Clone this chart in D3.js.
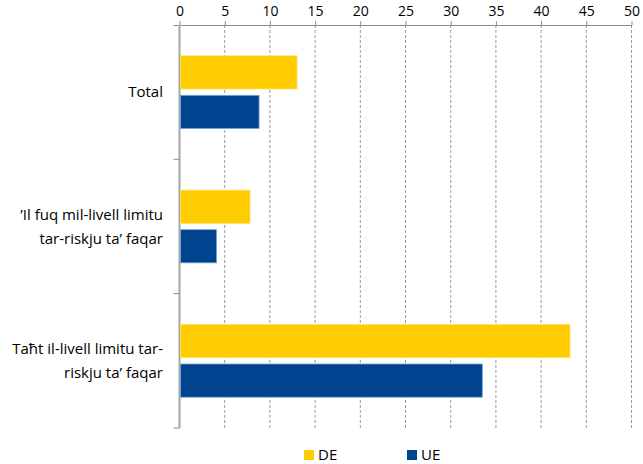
<!DOCTYPE html>
<html><head><meta charset="utf-8">
<script src="https://cdn.jsdelivr.net/npm/d3@7"></script>
<style>body{margin:0;background:#fff}svg{display:block}text{font-family:"Open Sans","Liberation Sans",sans-serif}</style>
</head><body><svg id="c" width="643" height="464"></svg>
<script>
const categories = [["Total"], ["’Il fuq mil-livell limitu", "tar-riskju ta’ faqar"], ["Taħt il-livell limitu tar-", "riskju ta’ faqar"]];
const seriesNames = ["DE", "UE"];
const deValues = [13.0, 7.8, 43.2];
const ueValues = [8.8, 4.1, 33.5];
const xTicks = [0, 5, 10, 15, 20, 25, 30, 35, 40, 45, 50];
const colors = ["#FFCC00", "#00438F"];

const svg = d3.select("#c");
const L = 179.5, R = 631.5, T = 25, B = 428;
const x = d3.scaleLinear().domain([0, 50]).range([L, R]);
const y = d3.scaleBand().domain(d3.range(categories.length)).range([T, B]).paddingInner(0).paddingOuter(0);
const inner = d3.scaleBand().domain([0, 1]).range([0, y.bandwidth()]).paddingInner(0.16).paddingOuter(0.78);

// gridlines
svg.append("g").selectAll("line").data(xTicks.filter(d => d > 0)).join("line")
  .attr("x1", d => x(d)).attr("x2", d => x(d)).attr("y1", T).attr("y2", B)
  .attr("stroke", "#9a9a9a").attr("stroke-width", 1).attr("stroke-dasharray", "3,2");

// top axis
const ax = svg.append("g").attr("transform", `translate(0,${T})`)
  .call(d3.axisTop(x).tickValues(xTicks).tickSize(4).tickPadding(5));
ax.select(".domain").attr("stroke", "#8c8c8c").attr("d", `M${L-6},0.5H${R+0.5}`);
ax.selectAll(".tick line").attr("stroke", "#8c8c8c");
ax.selectAll(".tick text").attr("font-size", 14).attr("fill", "#000").attr("font-family", "Open Sans, Liberation Sans, sans-serif");

// left axis line & ticks
svg.append("line").attr("x1", L).attr("x2", L).attr("y1", T).attr("y2", B).attr("stroke", "#a6a6a6").attr("stroke-width", 2);
svg.append("g").selectAll("line").data(d3.range(1, categories.length + 1)).join("line")
  .attr("x1", L - 6).attr("x2", L).attr("y1", i => T + i * y.bandwidth()).attr("y2", i => T + i * y.bandwidth())
  .attr("stroke", "#8c8c8c");

const data = categories.map((c, i) => ({ i, vals: [deValues[i], ueValues[i]] }));
const g = svg.append("g").selectAll("g").data(data).join("g").attr("transform", d => `translate(0,${y(d.i)})`);
g.selectAll("rect").data(d => d.vals.map((v, k) => ({ v, k }))).join("rect")
  .attr("x", x(0) + 1).attr("y", d => inner(d.k)).attr("height", inner.bandwidth())
  .attr("width", d => x(d.v) - x(0) - 1).attr("fill", d => colors[d.k])
  .attr("stroke", d => d.k ? "#7ea3d3" : "#ffe066").attr("stroke-width", 0.8);

// category labels
svg.append("g").selectAll("text").data(categories).join("text")
  .attr("text-anchor", "end").attr("font-size", 15).attr("fill", "#000")
  .each(function (lines, i) {
    const cy = y(i) + y.bandwidth() / 2;
    const t = d3.select(this);
    lines.forEach((ln, j) => {
      t.append("tspan").attr("x", 163).attr("y", cy + (j - (lines.length - 1) / 2) * 24).attr("dy", "0.35em").text(ln);
    });
  });

// legend
const lg = svg.append("g");
const lx = [304, 407];
seriesNames.forEach((n, k) => {
  lg.append("rect").attr("x", lx[k]).attr("y", 450).attr("width", 10).attr("height", 10).attr("fill", colors[k]);
  lg.append("text").attr("x", lx[k] + 14).attr("y", 455).attr("dy", "0.35em").attr("font-size", 15).attr("fill", "#000").text(n);
});
</script></body></html>
